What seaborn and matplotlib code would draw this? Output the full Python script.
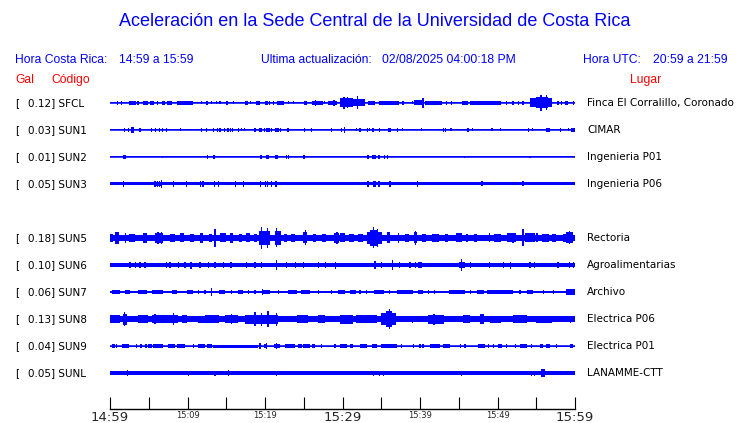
import numpy as np
import pandas as pd
import seaborn as sns
import matplotlib
matplotlib.use("Agg")
from matplotlib import pyplot as plt
from matplotlib.transforms import blended_transform_factory

# ---- data ------------------------------------------------------------------
codes  = ["SFCL", "SUN1", "SUN2", "SUN3", "SUN5", "SUN6", "SUN7", "SUN8", "SUN9", "SUNL"]
gal    = [0.12, 0.03, 0.01, 0.05, 0.18, 0.10, 0.06, 0.13, 0.04, 0.05]
places = ["Finca El Corralillo, Coronado", "CIMAR", "Ingenieria P01", "Ingenieria P06",
          "Rectoria", "Agroalimentarias", "Archivo", "Electrica P06", "Electrica P01",
          "LANAMME-CTT"]
slots  = [0, 1, 2, 3, 5, 6, 7, 8, 9, 10]          # slot 4 (SUN4) is empty
base   = [0.5, 0.5, 0.5, 1.5, 3.3, 1.8, 1.3, 3.0, 0.5, 1.7]   # noise band half-amplitude

tick_min    = [0, 5, 10, 15, 20, 25, 30, 35, 40, 45, 50, 55, 60]
tick_labels = ["14:59", "", "15:09", "", "15:19", "", "15:29", "", "15:39", "", "15:49", "", "15:59"]

# bursts: (start minute, end minute, half amplitude)
sfcl = [(0.95, 0.95, 2), (1.4, 1.6, 2), (2.4, 3.3, 2), (3.5, 3.8, 2), (4.2, 4.9, 2), (5.1, 5.7, 2),
        (6.1, 6.1, 2), (6.7, 7.1, 2), (7.3, 8.0, 2), (8.7, 10.75, 2), (11.8, 11.8, 1.5),
        (12.4, 12.7, 2), (13.1, 13.1, 1.5), (13.7, 13.7, 1.5), (14.2, 14.2, 1.5), (15.1, 15.1, 2),
        (15.9, 15.9, 1.5), (17.4, 17.8, 2), (18.1, 18.1, 1.5), (18.9, 19.4, 2), (20.0, 20.4, 2),
        (20.6, 20.6, 2), (21.1, 21.1, 2), (21.5, 22.5, 2), (23.0, 23.0, 1.5), (23.7, 23.7, 1.5),
        (25.0, 25.4, 2), (26.1, 27.5, 2), (26.5, 26.5, 3.3), (27.7, 27.7, 1.5), (28.1, 29.3, 2.3),
        (28.9, 28.9, 2.7), (29.7, 30.3, 2), (29.7, 31.4, 4.5), (30.2, 30.2, 6), (30.6, 30.6, 5.5),
        (31.4, 32.9, 3.5), (31.9, 31.9, 6.5), (33.3, 34.2, 2), (34.7, 37.3, 2), (37.8, 37.8, 2),
        (39.0, 39.0, 1.5), (39.2, 40.4, 2.5), (40.4, 40.4, 5.3), (40.6, 42.8, 2), (43.4, 43.4, 2),
        (44.1, 44.1, 2), (45.4, 46.2, 2), (46.5, 50.5, 2), (51.2, 51.2, 2), (52.0, 52.0, 2),
        (52.7, 52.7, 2), (53.3, 53.3, 2), (54.2, 57.0, 4.5), (55.0, 56.5, 5.5), (55.6, 55.6, 8.3),
        (56.3, 56.3, 7.5), (57.8, 57.8, 2), (58.3, 58.3, 2), (58.7, 59.1, 2), (59.8, 59.8, 2)]
sun1 = [(1.85, 1.85, 2), (2.37, 2.37, 2), (2.7, 3.1, 3), (3.7, 4.0, 2), (5.38, 5.38, 2), (5.9, 5.9, 2),
        (6.37, 6.37, 2), (6.75, 6.75, 2), (7.27, 7.27, 2), (9.07, 9.07, 1.5), (11.83, 11.83, 2),
        (12.47, 12.47, 2), (13.38, 13.38, 2), (13.85, 13.85, 2), (14.19, 14.19, 2), (14.8, 14.8, 2),
        (15.23, 15.23, 2), (15.53, 15.53, 2), (15.83, 15.83, 2), (16.56, 16.56, 2), (17.0, 17.0, 1.5),
        (17.33, 17.33, 1.5), (18.7, 18.7, 2), (19.2, 19.6, 2), (19.9, 19.9, 2), (20.1, 20.6, 2),
        (20.86, 20.86, 2), (21.3, 21.8, 2), (22.02, 22.02, 2), (22.8, 23.05, 2), (25.08, 25.08, 2),
        (26.0, 26.0, 2), (28.6, 28.6, 2), (29.9, 29.9, 2), (30.3, 30.3, 2.7), (31.8, 31.8, 1.5),
        (32.25, 32.25, 2), (33.2, 33.2, 2), (33.46, 33.46, 1.5), (33.8, 34.0, 2), (34.76, 34.76, 2),
        (35.9, 36.2, 2), (37.1, 37.1, 2), (37.7, 37.7, 1.5), (40.2, 40.2, 1.5), (43.0, 43.0, 2),
        (43.3, 43.3, 2), (44.0, 44.0, 1.5), (46.0, 46.3, 2), (46.8, 46.8, 1.5), (49.3, 49.3, 1.5),
        (50.4, 50.4, 1.5), (53.9, 54.1, 2), (54.5, 54.5, 1.5), (56.2, 56.8, 2), (58.1, 58.1, 2),
        (59.2, 59.2, 1.5), (59.5, 60.0, 2)]
sun2 = [(1.72, 1.72, 1.7), (1.94, 1.94, 1.7), (6.75, 6.75, 1), (12.56, 12.56, 1.7), (13.3, 13.5, 1.7),
        (19.3, 19.6, 1.7), (20.1, 20.5, 1.7), (21.3, 21.7, 1.7), (22.8, 22.8, 1.7), (23.05, 23.05, 1.7),
        (25.03, 25.03, 1.7), (33.3, 33.3, 1.7), (33.8, 34.1, 1.7), (34.2, 34.2, 1.7), (34.6, 34.9, 1.7),
        (35.4, 35.4, 1.7), (35.8, 35.8, 1.7), (45.7, 45.7, 1), (54.2, 54.2, 1)]
sun3 = [(1.72, 1.72, 2.7), (5.8, 5.8, 2.7), (6.1, 6.1, 2.7), (6.37, 6.37, 2.7), (6.67, 6.67, 3.8),
        (5.9, 6.6, 2.3), (8.17, 8.17, 2.7), (9.85, 9.85, 2.7), (11.7, 11.7, 2.7), (12.0, 12.0, 2.7),
        (13.46, 13.46, 2.7), (13.98, 13.98, 2.7), (16.17, 16.17, 2.7), (17.2, 17.2, 2.7),
        (19.44, 19.44, 2.7), (20.04, 20.04, 2.7), (20.3, 20.3, 2.7), (20.8, 20.8, 2.7),
        (21.42, 21.42, 2.7), (33.3, 33.3, 2.7), (33.97, 33.97, 2.7), (34.2, 34.2, 2.7),
        (34.6, 34.9, 2.7), (36.13, 36.13, 2.7), (39.7, 39.7, 2.7), (48.0, 48.0, 2.5), (53.3, 53.3, 2.5)]
sun5 = [(0.0, 0.4, 4), (0.65, 1.1, 6), (1.9, 2.0, 5), (2.5, 3.2, 4), (4.3, 4.8, 5), (5.8, 6.9, 5),
        (6.2, 6.2, 6.3), (6.6, 6.6, 6), (7.8, 8.4, 4), (9.0, 9.5, 4.5), (10.3, 10.8, 4), (11.6, 12.0, 5),
        (12.8, 13.2, 4), (13.4, 13.7, 7), (13.55, 13.55, 8.7), (14.2, 15.0, 4.5), (15.5, 15.9, 5),
        (16.6, 17.0, 4), (17.6, 18.1, 4.5), (18.6, 19.0, 4), (19.2, 20.6, 7), (19.5, 19.5, 11),
        (20.3, 20.3, 10), (21.3, 22.0, 7), (21.5, 21.5, 9.5), (22.4, 22.9, 4), (23.4, 23.9, 4),
        (24.9, 25.4, 5.5), (25.2, 25.2, 7.5), (26.2, 26.6, 4), (27.4, 27.9, 4), (28.9, 29.6, 5),
        (29.3, 29.3, 6), (29.7, 30.3, 4.5), (30.8, 31.5, 4), (32.0, 32.6, 4), (33.1, 35.1, 6),
        (33.6, 34.6, 8), (34.0, 34.0, 10.5), (34.5, 34.5, 9), (35.7, 36.1, 5.5), (37.2, 37.2, 5),
        (38.0, 38.6, 4), (39.2, 39.6, 5.5), (39.4, 39.4, 7), (40.3, 40.8, 4), (41.5, 42.5, 4),
        (43.2, 43.6, 4), (44.6, 45.4, 4.5), (45.9, 46.2, 4), (47.0, 47.4, 4), (49.0, 49.0, 4.5),
        (49.6, 50.4, 4), (51.2, 52.4, 4.5), (52.0, 52.0, 5), (53.3, 53.3, 8.5), (53.6, 54.8, 4.5),
        (55.1, 55.1, 4.5), (55.8, 56.6, 4), (57.0, 57.6, 4), (58.4, 58.8, 4), (58.9, 59.8, 5.5),
        (59.3, 59.3, 6.5)]
sun6 = [(2.58, 2.58, 2.7), (3.3, 3.3, 3.3), (3.87, 3.87, 2.7), (4.52, 4.52, 2.7), (7.31, 7.31, 2.7),
        (7.74, 7.74, 2.7), (8.82, 8.82, 2.7), (9.68, 9.68, 2.7), (10.45, 10.45, 3.5), (11.6, 11.6, 2.7),
        (12.7, 12.7, 2.7), (13.55, 13.55, 2.7), (14.6, 14.6, 2.7), (15.6, 15.6, 2.7), (17.6, 17.6, 2.7),
        (18.7, 18.7, 2.7), (19.57, 19.57, 2.7), (21.5, 21.5, 4.7), (22.8, 22.8, 2.7), (23.9, 23.9, 2.7),
        (25.0, 25.0, 2.7), (26.9, 26.9, 2.7), (27.8, 27.8, 2.7), (29.1, 29.1, 3.5), (30.97, 30.97, 2.3),
        (34.2, 34.2, 4.3), (35.05, 35.05, 2.7), (36.47, 36.47, 5), (37.4, 37.4, 2.7), (38.7, 38.7, 2.7),
        (39.4, 39.4, 2.7), (39.8, 40.3, 2.7), (45.0, 45.8, 2.7), (45.4, 45.4, 6.3), (46.5, 46.5, 2.7),
        (49.0, 49.0, 2.7), (50.75, 50.75, 2.7), (51.7, 51.7, 3.5), (54.2, 54.2, 2.7), (54.8, 54.8, 3),
        (57.8, 57.8, 2.7), (59.3, 59.3, 2.7), (59.8, 59.8, 2.7)]
sun7 = [(0.22, 1.29, 2.3), (1.94, 2.58, 2.3), (3.66, 4.73, 2.3), (5.38, 6.88, 2.3), (7.96, 8.6, 2.3),
        (9.9, 10.75, 2.3), (11.4, 11.4, 2.3), (12.26, 12.26, 2.3), (13.1, 13.1, 4), (14.0, 14.8, 2.3),
        (15.7, 15.7, 2.3), (16.56, 17.2, 2.3), (17.85, 17.85, 2.3), (18.7, 18.7, 2.3), (19.57, 20.65, 2.3),
        (19.7, 19.7, 3.3), (21.7, 21.7, 2.3), (23.0, 24.1, 2.3), (24.7, 25.8, 2.3), (26.9, 26.9, 2.3),
        (28.6, 28.6, 2.3), (29.46, 30.3, 2.3), (30.97, 31.8, 2.3), (32.26, 32.26, 2.3), (33.1, 33.1, 2.3),
        (34.0, 35.3, 2.3), (36.1, 36.1, 2.3), (37.0, 39.1, 2.3), (39.8, 40.4, 2.3), (41.1, 41.1, 2.3),
        (41.9, 41.9, 2.3), (43.7, 45.8, 2.3), (46.5, 46.5, 2.3), (47.3, 48.2, 2.3), (48.6, 52.0, 2.3),
        (52.9, 52.9, 2.3), (53.8, 54.6, 2.3), (55.9, 55.9, 2.3), (57.2, 57.2, 2.3), (58.9, 60.0, 2.7)]
sun8 = [(0.0, 1.3, 4), (1.9, 1.9, 7), (1.7, 2.2, 5.5), (3.66, 4.95, 4), (5.4, 8.8, 4), (5.8, 5.8, 5),
        (8.2, 8.2, 6), (9.25, 9.9, 4), (11.4, 12.26, 3.5), (12.26, 14.0, 4), (14.8, 16.56, 4),
        (15.7, 15.7, 5), (17.4, 21.7, 4.5), (18.7, 18.7, 7), (19.57, 19.57, 6.5), (20.4, 20.4, 8),
        (21.5, 21.5, 6.5), (24.1, 25.6, 4), (26.9, 27.7, 4), (29.7, 31.4, 4.5), (31.8, 34.4, 4),
        (35.0, 36.9, 6), (35.6, 36.4, 8), (36.05, 36.05, 10), (36.7, 38.0, 3), (39.0, 39.0, 3.5),
        (41.0, 43.1, 4.5), (41.8, 41.8, 5.5), (45.6, 46.5, 4), (47.8, 48.2, 5), (49.0, 50.5, 3.5),
        (52.0, 53.8, 4), (55.0, 57.0, 3.5), (59.4, 59.4, 3.5)]
sun9 = [(0.22, 0.65, 1.7), (0.86, 0.86, 1.7), (1.5, 2.45, 1.7), (3.44, 3.44, 1.7), (4.0, 4.0, 1.7),
        (4.52, 4.73, 1.7), (4.95, 5.38, 1.7), (5.6, 6.9, 1.7), (7.53, 8.39, 1.7), (8.6, 9.68, 1.7),
        (10.75, 10.75, 1.7), (11.4, 12.26, 1.7), (12.47, 13.1, 1.7), (13.33, 19.14, 1.5), (19.35, 19.35, 3),
        (20.0, 20.0, 1.7), (20.2, 20.2, 3.3), (21.1, 21.94, 1.7), (21.5, 21.5, 3), (22.58, 23.87, 1.7),
        (24.3, 24.73, 1.7), (24.95, 25.8, 1.7), (26.0, 26.45, 1.7), (27.3, 27.3, 1.7), (29.03, 29.03, 1.7),
        (29.7, 30.54, 1.7), (30.97, 31.4, 1.7), (32.26, 33.1, 1.7), (33.76, 34.4, 1.7), (35.0, 37.0, 1.7),
        (37.6, 37.6, 1.7), (39.2, 39.2, 1.7), (40.0, 40.0, 1.7), (40.4, 40.4, 1.7), (41.3, 42.6, 1.7),
        (43.0, 43.9, 1.7), (45.2, 45.2, 1.7), (45.8, 45.8, 1.7), (47.5, 48.4, 1.7), (48.8, 48.8, 1.7),
        (49.5, 49.5, 1.7), (50.1, 50.6, 1.7), (51.2, 51.2, 1.7), (52.3, 52.3, 1.7), (52.9, 53.8, 1.7),
        (54.4, 54.4, 1.7), (55.5, 55.9, 1.7), (56.3, 56.8, 1.7), (57.6, 57.6, 1.7), (59.4, 59.8, 1.7)]
sunl = [(2.24, 2.24, 2.7), (5.5, 5.5, 2.3), (10.1, 10.1, 2.5), (13.55, 13.55, 2.5), (15.27, 15.27, 3),
        (21.5, 21.5, 2.5), (27.5, 27.5, 2.3), (28.2, 28.2, 2.3), (33.98, 33.98, 2.5), (34.76, 34.76, 2.5),
        (35.3, 35.3, 2.5), (37.1, 37.1, 2.3), (43.4, 43.4, 2.3), (45.4, 45.4, 2.5), (46.2, 46.2, 2.3),
        (47.8, 47.8, 2.3), (48.6, 48.6, 2.3), (52.5, 52.5, 2.3), (54.4, 54.4, 2.5), (54.8, 54.8, 2.5),
        (55.6, 56.1, 4), (58.9, 58.9, 2.3)]
bursts = [sfcl, sun1, sun2, sun3, sun5, sun6, sun7, sun8, sun9, sunl]

# ---- style -----------------------------------------------------------------
sns.set_theme(style="white")
plt.rcParams["font.family"] = ["DejaVu Sans"]
BLUE, RED = "#0000ff", "#ff0000"
HEAD = ["Liberation Sans", "DejaVu Sans"]
W, H = 740, 423
ROW_GAP = 27
MIN_W = 0.16

fx = lambda px: px / W
fy = lambda py: 1 - py / H

fig = plt.figure(figsize=(W / 100, H / 100), dpi=100)
fig.patch.set_facecolor("white")

# traces
ax = fig.add_axes([fx(110), fy(386.5), fx(575) - fx(110), 297 / H])
ax.set_xlim(0, 60)
ax.set_ylim(10 * ROW_GAP + 13.5, -13.5)
ax.axis("off")

rows = []
for code, slot in zip(codes, slots):
    for t in (0, 60):
        rows.append({"station": code, "minute": t, "y": slot * ROW_GAP})
sns.lineplot(data=pd.DataFrame(rows), x="minute", y="y", units="station", estimator=None,
             color=BLUE, lw=1.1, ax=ax)

for slot, b, ev in zip(slots, base, bursts):
    off = slot * ROW_GAP
    ax.bar(0, 2 * b, width=60, bottom=off - b, align="edge", color=BLUE, lw=0)
    ev = np.array(ev, dtype=float)
    widths = np.maximum(ev[:, 1] - ev[:, 0], MIN_W)
    ax.bar(ev[:, 0] - MIN_W / 2 * (ev[:, 1] == ev[:, 0]), 2 * ev[:, 2], width=widths,
           bottom=off - ev[:, 2], align="edge", color=BLUE, lw=0)

# row labels
tr = blended_transform_factory(fig.transFigure, ax.transData)
for code, g, place, slot in zip(codes, gal, places, slots):
    y = slot * ROW_GAP
    ax.text(fx(15), y, "[", transform=tr, ha="left", va="center", fontsize=7.5, color="black")
    ax.text(fx(28), y, f"{g:.2f}] {code}", transform=tr, ha="left", va="center",
            fontsize=7.5, color="black")
    ax.text(fx(587), y, place, transform=tr, ha="left", va="center", fontsize=7.5, color="black")

# time axis
axt = fig.add_axes([fx(110), fy(409), fx(575) - fx(110), 0.001])
axt.set_xlim(0, 60)
axt.set_yticks([])
for s in ["top", "left", "right"]:
    axt.spines[s].set_visible(False)
axt.spines["bottom"].set_color("black")
axt.spines["bottom"].set_linewidth(1)
axt.set_xticks(tick_min)
axt.set_xticklabels(tick_labels)
axt.tick_params(axis="x", direction="in", length=8.6, width=0.8, color="black", pad=1.5,
                bottom=True)
for lab, t in zip(axt.get_xticklabels(), tick_min):
    lab.set_fontsize(9.5 if t % 30 == 0 else 6)
axt.set_facecolor("none")

# header texts
fig.text(fx(375), fy(22), "Aceleración en la Sede Central de la Universidad de Costa Rica",
         ha="center", va="center", color=BLUE, fontsize=13, family=HEAD)
for x, s in [(15, "Hora Costa Rica:"), (119, "14:59 a 15:59"), (261, "Ultima actualización:"),
             (382, "02/08/2025 04:00:18 PM"), (583, "Hora UTC:"), (653, "20:59 a 21:59")]:
    fig.text(fx(x), fy(60), s, ha="left", va="center", color=BLUE, fontsize=8.7, family=HEAD)
for x, s in [(15, "Gal"), (51, "Código"), (630, "Lugar")]:
    fig.text(fx(x), fy(80), s, ha="left", va="center", color=RED, fontsize=8.7, family=HEAD)

fig.savefig("out.png", dpi=100, facecolor="white")
